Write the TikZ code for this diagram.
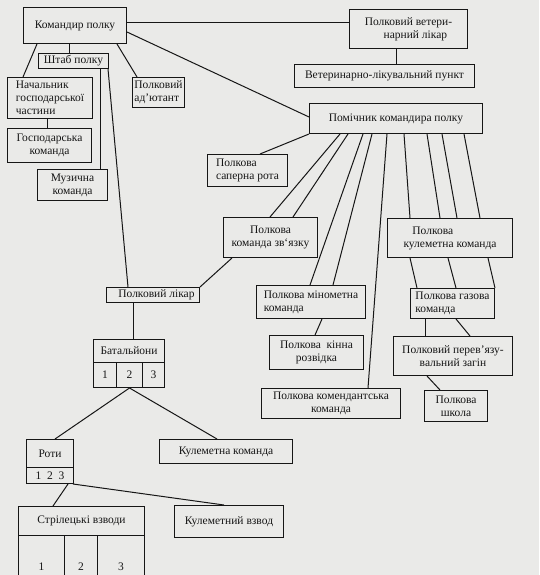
\documentclass[tikz,border=0pt]{standalone}
\usepackage{fontspec}
\setmainfont{Liberation Serif}
\usetikzlibrary{calc}
\definecolor{paper}{RGB}{234,234,232}
\definecolor{ink}{RGB}{22,22,22}
\begin{document}
\begin{tikzpicture}[x=1pt,y=-1pt,
  box/.style={draw=ink, line width=1pt, fill=paper, rectangle, inner sep=0pt,
    anchor=north west, font=\fontsize{11.5}{13}\selectfont, text=ink, align=center},
  lbox/.style={box, align=left},
  ln/.style={draw=ink, line width=1pt}]
\fill[paper] (0,0) rectangle (539,575);
\clip (0,0) rectangle (539,575);
% top level
\node[box, minimum width=103pt, minimum height=36pt] (kom) at (23,7) {Командир полку};
\node[box, minimum width=118pt, minimum height=39pt] (vet) at (349,9) {Полковий ветери-\\\hspace*{1.2em}нарний лікар};
\node[box, minimum width=180pt, minimum height=23pt] (vpunkt) at (294,64) {Ветеринарно-лікувальний пункт};
\node[box, minimum width=173pt, minimum height=30pt] (pom) at (309,103) {Помічник командира полку};
\node[box, minimum width=70pt, minimum height=15pt] (shtab) at (38,53) {Штаб полку};
\node[lbox, minimum width=85pt, minimum height=41pt] (nach) at (7,77) {Начальник\\господарської\\частини};
\node[box, minimum width=84pt, minimum height=34pt] (gosp) at (7,128) {Господарська\\команда};
\node[box, minimum width=70pt, minimum height=31pt] (muz) at (37,169) {Музична\\команда};
\node[lbox, minimum width=52pt, minimum height=30pt] (adj) at (132,77) {Полковий\\ад’ютант};
\node[lbox, minimum width=80pt, minimum height=32pt] (sap) at (207,154) {Полкова\\саперна рота};
\node[box, minimum width=94pt, minimum height=40pt] (zv) at (223,217) {Полкова\\команда зв‘язку};
\node[box, minimum width=93pt, minimum height=15pt] (likar) at (106,287) {\hspace*{0.6em}Полковий лікар};
\node[lbox, minimum width=109pt, minimum height=33pt] (min) at (256,285) {Полкова мінометна\\команда};
\node[box, minimum width=94pt, minimum height=34pt] (kin) at (269,335) {Полкова\ \ кінна\\розвідка};
\node[box, minimum width=139pt, minimum height=30pt] (kom2) at (261,388) {Полкова комендантська\\команда};
\node[box, minimum width=125pt, minimum height=39pt] (kul) at (387,218) {Полкова\hspace*{3em}\\кулеметна команда};
\node[lbox, minimum width=84pt, minimum height=30pt] (gaz) at (410,288) {Полкова газова\\команда};
\node[box, minimum width=119pt, minimum height=39pt] (perev) at (393,336) {Полковий перев’язу-\\вальний загін};
\node[box, minimum width=63pt, minimum height=31pt] (shk) at (424,390) {Полкова\\школа};
% battalions
\node[box, minimum width=71pt, minimum height=23pt] (bat) at (93,339) {Батальйони};
\node[box, minimum width=23pt, minimum height=25pt] (bat1) at (93,362) {1};
\node[box, minimum width=26pt, minimum height=25pt] (bat2) at (116,362) {2};
\node[box, minimum width=22pt, minimum height=25pt] (bat3) at (142,362) {3};
% companies
\node[box, minimum width=47pt, minimum height=28pt] (roty) at (26,439) {Роти};
\node[box, minimum width=47pt, minimum height=16pt] (rotyc) at (26,467) {1\ \ 2\ \ 3};
\node[box, minimum width=133pt, minimum height=24pt] (kulcom) at (159,439) {Кулеметна команда};
% platoons
\node[box, minimum width=126pt, minimum height=29pt] (str) at (18,506) {Стрілецькі взводи};
\node[box, minimum width=46pt, minimum height=62pt] (str1) at (18,535) {1};
\node[box, minimum width=33pt, minimum height=62pt] (str2) at (64,535) {2};
\node[box, minimum width=47pt, minimum height=62pt] (str3) at (97,535) {3};
\node[box, minimum width=109pt, minimum height=32pt] (kulvzv) at (174,505) {Кулеметний взвод};
% connectors
\draw[ln] ($(kom.north east)+(0,16)$) -- ($(vet.north west)+(0,14)$);
\draw[ln] ($(vet.south west)+(47,0)$) -- ($(vpunkt.north west)+(102,0)$);
\draw[ln] ($(kom.north east)+(0,25)$) -- ($(pom.north west)+(0,14)$);
\draw[ln] ($(kom.south west)+(46,0)$) -- ($(shtab.north west)+(31,0)$);
\draw[ln] ($(kom.south west)+(14,0)$) -- ($(nach.north west)+(16,0)$);
\draw[ln] ($(kom.south west)+(94,0)$) -- ($(adj.north west)+(5,0)$);
\draw[ln] ($(nach.south west)+(40,0)$) -- ($(gosp.north west)+(40,0)$);
\draw[ln] ($(shtab.south west)+(62,0)$) -- ($(muz.north west)+(63,0)$);
\draw[ln] ($(shtab.south east)+(-1,0)$) -- ($(likar.north west)+(22,0)$);
\draw[ln] (likar.north east) -- ($(zv.south west)+(9,0)$);
\draw[ln] ($(likar.south west)+(27,0)$) -- ($(bat.north west)+(40,0)$);
\draw[ln] (pom.south west) -- ($(sap.north west)+(53,0)$);
\draw[ln] ($(pom.south west)+(31,0)$) -- ($(zv.north west)+(47,0)$);
\draw[ln] ($(pom.south west)+(39,0)$) -- ($(zv.north west)+(70,0)$);
\draw[ln] ($(pom.south west)+(54,0)$) -- ($(min.north west)+(54,0)$);
\draw[ln] ($(pom.south west)+(63,0)$) -- ($(min.north west)+(77,0)$);
\draw[ln] ($(min.south west)+(66,0)$) -- ($(kin.north west)+(46,0)$);
\draw[ln] ($(pom.south west)+(78,0)$) -- ($(kom2.north west)+(107,0)$);
\draw[ln] ($(pom.south west)+(95,0)$) -- ($(kul.north west)+(23,0)$);
\draw[ln] ($(pom.south west)+(118,0)$) -- ($(kul.north west)+(53,0)$);
\draw[ln] ($(pom.south west)+(133,0)$) -- ($(kul.north west)+(70,0)$);
\draw[ln] ($(pom.south west)+(155,0)$) -- ($(kul.north west)+(93,0)$);
\draw[ln] ($(kul.south west)+(23,0)$) -- ($(gaz.north west)+(7,0)$);
\draw[ln] ($(kul.south west)+(61,0)$) -- ($(gaz.north west)+(46,0)$);
\draw[ln] ($(kul.south west)+(101,0)$) -- (gaz.north east);
\draw[ln] ($(gaz.south west)+(15,0)$) -- ($(perev.north west)+(32,0)$);
\draw[ln] ($(gaz.south west)+(46,0)$) -- ($(perev.north west)+(77,0)$);
\draw[ln] ($(perev.south west)+(34,0)$) -- ($(shk.north west)+(16,0)$);
\draw[ln] (bat2.south) -- ($(roty.north west)+(29,0)$);
\draw[ln] (bat2.south) -- ($(kulcom.north west)+(58,0)$);
\draw[ln] ($(rotyc.south west)+(42,0)$) -- ($(str.north west)+(35,0)$);
\draw[ln] ($(rotyc.south east)+(-1,0)$) -- ($(kulvzv.north west)+(50,0)$);
\end{tikzpicture}
\end{document}
